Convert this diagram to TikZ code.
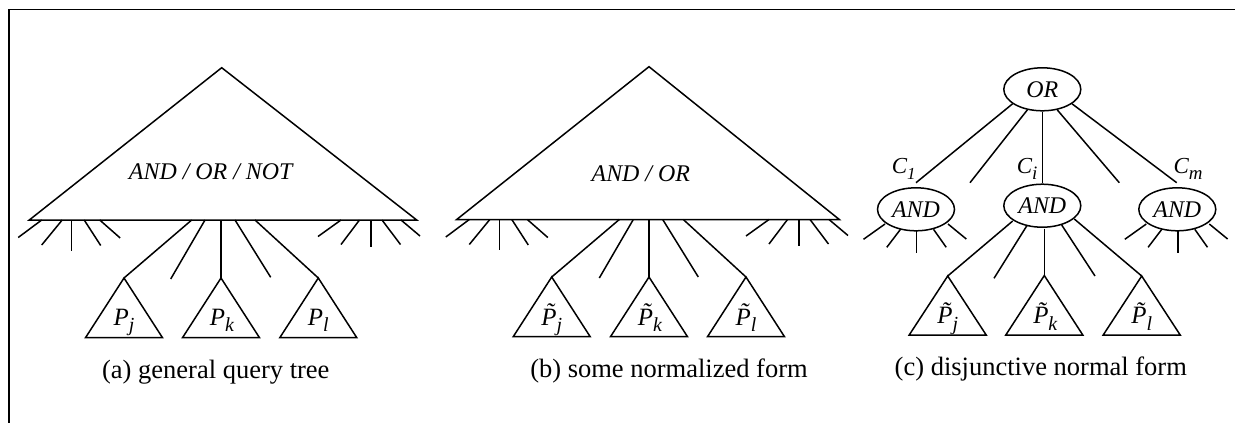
\documentclass[tikz,border=0pt]{standalone}
\usepackage{fontspec}
\setmainfont{Liberation Serif}
\usetikzlibrary{shapes.geometric}
\newcommand\mysub[2][20]{\raisebox{-0.27em}{\fontsize{#1}{#1}\selectfont #2}}
\newcommand\tP{\~{P}}
\tikzset{
  ln/.style={line width=1.5bp},
  lab/.style={font=\fontsize{25}{29}\selectfont\itshape, inner sep=0pt, anchor=base},
  clab/.style={font=\fontsize{23}{27}\selectfont\itshape, inner sep=0pt, anchor=base west},
  big/.style={font=\fontsize{24}{28}\selectfont\itshape, inner sep=0pt, anchor=base},
  capt/.style={font=\fontsize{26.6}{31}\selectfont, inner sep=0pt, anchor=base},
  oval/.style={ellipse, draw, line width=1.5bp, inner sep=0pt, minimum width=77bp,
    minimum height=43bp, font=\fontsize{24}{28}\selectfont\itshape},
}
% fan: prefix, x, y, list-macro of sx/sy/ex/ey
\newcommand\fan[4]{%
  \foreach \sx/\sy/\ex/\ey [count=\n] in #4 {
    \coordinate (#1s\n) at (#2+\sx, #3+\sy);
    \coordinate (#1e\n) at (#2+\ex, #3+\ey);
    \draw[ln] (#1s\n) -- (#1e\n);
  }}
% small triangle: prefix, apex x, apex y, base y
\newcommand\tri[4]{%
  \coordinate (#1a) at (#2,#3);
  \coordinate (#1l) at (#2-38.5,#4);
  \coordinate (#1r) at (#2+38.5,#4);
  \draw[ln, line join=miter] (#1a) -- (#1l) -- (#1r) -- cycle;}
\def\fanL{-30/0/-53.5/17.5, -9.5/0/-30/25, 0/0/0/30.5, 12.5/0/29/25.5, 28/0/48.5/18}
\def\fanR{-30/0/-53/16.5, -11.5/0/-30/24.5, 0/0/0/26.5, 11/0/29.5/24.5, 30/0/49/16}
\def\fanE{-31/14.7/-52.5/30, -15.5/20/-29.2/38, 0.7/21.5/0.7/43.7, 17.5/20/30.2/38, 32/14.7/50.3/29.7}
\begin{document}
\begin{tikzpicture}[x=1bp, y=-1bp]
\useasboundingbox (0,0) rectangle (1235,422);
% frame
\coordinate (fbl) at (8.7,423);
\coordinate (ftl) at (8.7,9.5);
\coordinate (ftr) at (1236,9.5);
\draw[line width=1.8bp] (fbl) -- (ftl) -- (ftr);

% ================= (a)
\coordinate (Aa) at (221.7,67.7);
\coordinate (Al) at (29.3,220);
\coordinate (Ar) at (416.7,220);
\draw[ln, line join=miter] (Aa) -- (Al) -- (Ar) -- cycle;
\node[big] (Atxt) at (210.7,179) {AND / OR / NOT};
\fan{aL}{71.7}{220}{\fanL}
\fan{aR}{371}{220}{\fanR}
\tri{aj}{124}{278}{337.7}
\tri{ak}{221}{278}{337.7}
\tri{al}{318.3}{278}{337.7}
\coordinate (ac1) at (191.7,220);
\coordinate (ac2) at (205,220);
\coordinate (ac3) at (221,220);
\coordinate (ac4) at (235,220);
\coordinate (ac5) at (255,220);
\coordinate (ad2) at (170.7,279);
\coordinate (ad4) at (270.7,277.3);
\draw[ln] (ac1) -- (aja);
\draw[ln] (ac2) -- (ad2);
\draw[ln] (ac3) -- (aka);
\draw[ln] (ac4) -- (ad4);
\draw[ln] (ac5) -- (ala);
\node[lab] (ajt) at (124,325) {P\mysub{j}};
\node[lab] (akt) at (222,325) {P\mysub{k}};
\node[lab] (alt) at (318.3,325) {P\mysub{l}};
\node[capt] (acap) at (215.8,378.3) {(a) general query tree};

% ================= (b)
\coordinate (Ba) at (649,66.7);
\coordinate (Bl) at (456.7,219.5);
\coordinate (Br) at (839.3,219.5);
\draw[ln, line join=miter] (Ba) -- (Bl) -- (Br) -- cycle;
\node[big] (Btxt) at (640.8,181) {AND / OR};
\fan{bL}{499.3}{219.5}{\fanL}
\fan{bR}{799}{219.5}{\fanR}
\tri{bj}{551.7}{277}{336.7}
\tri{bk}{649}{277}{336.7}
\tri{bl}{746}{277}{336.7}
\coordinate (bc1) at (619.3,219.5);
\coordinate (bc2) at (633.3,219.5);
\coordinate (bc3) at (649,219.5);
\coordinate (bc4) at (662.7,219.5);
\coordinate (bc5) at (683.3,219.5);
\coordinate (bd2) at (599.3,278);
\coordinate (bd4) at (698.3,277);
\draw[ln] (bc1) -- (bja);
\draw[ln] (bc2) -- (bd2);
\draw[ln] (bc3) -- (bka);
\draw[ln] (bc4) -- (bd4);
\draw[ln] (bc5) -- (bla);
\node[lab] (bjt) at (551.7,325) {\tP\mysub{j}};
\node[lab] (bkt) at (650,325) {\tP\mysub{k}};
\node[lab] (blt) at (746,325) {\tP\mysub{l}};
\node[capt] (bcap) at (669,377.7) {(b) some normalized form};

% ================= (c)
\node[oval] (or) at (1042.3,89.3) {OR};
\node[oval] (and1) at (916,209.3) {AND};
\node[oval] (and2) at (1042.3,205.7) {AND};
\node[oval] (and3) at (1177.3,209.3) {AND};
\coordinate (ce1) at (916,182.7);
\coordinate (ce2) at (970,182.7);
\coordinate (ce4) at (1119.3,182.7);
\coordinate (ce5) at (1176.7,182.7);
\draw[ln] (or.206) -- (ce1);
\draw[ln] (or.234) -- (ce2);
\draw[ln] (or.south) -- (and2.north);
\draw[ln] (or.306) -- (ce4);
\draw[ln] (or.334) -- (ce5);
\node[clab] (c1) at (891.7,173.3) {C\mysub[17]{1}};
\node[clab] (ci) at (1016.7,173.3) {C\mysub[19]{i}};
\node[clab] (cm) at (1173.3,173.3) {C\mysub[19]{m}};
\fan{cL}{916}{209.3}{\fanE}
\fan{cR}{1177.3}{209.3}{\fanE}
\tri{cj}{947.7}{276}{335}
\tri{ck}{1044.3}{275.5}{335}
\tri{cl}{1141.7}{276}{335}
\coordinate (cs1) at (1012.7,221);
\coordinate (cs2) at (1027.3,225);
\coordinate (cs3) at (1044.3,228.5);
\coordinate (cs4) at (1061.7,225);
\coordinate (cs5) at (1074.3,219);
\coordinate (cd2) at (994,278.3);
\coordinate (cd4) at (1095,276);
\draw[ln] (cs1) -- (cja);
\draw[ln] (cs2) -- (cd2);
\draw[ln] (cs3) -- (cka);
\draw[ln] (cs4) -- (cd4);
\draw[ln] (cs5) -- (cla);
\node[lab] (cjt) at (947.7,323.3) {\tP\mysub{j}};
\node[lab] (ckt) at (1045.3,323.3) {\tP\mysub{k}};
\node[lab] (clt) at (1141.7,323.3) {\tP\mysub{l}};
\node[capt] (ccap) at (1040.8,375) {(c) disjunctive normal form};
\end{tikzpicture}
\end{document}
